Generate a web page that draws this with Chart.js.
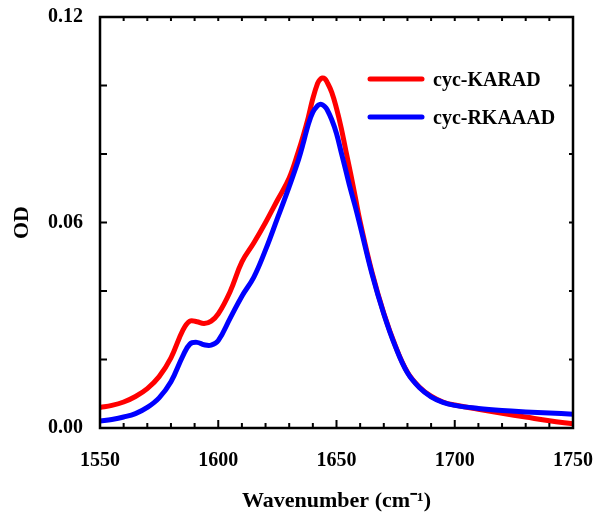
<!DOCTYPE html>
<html>
<head>
<meta charset="utf-8">
<script src="https://cdn.jsdelivr.net/npm/chart.js@4.4.1/dist/chart.umd.min.js"></script>
<style>
  body{margin:0;background:#fff;}
  #wrap{width:600px;height:520px;}
</style>
</head>
<body>
<div id="wrap"><canvas id="chart" width="600" height="520"></canvas></div>
<script>
// wavenumber grid (cm-1)
const wavenumbers = [1550,1555,1560,1565,1570,1575,1580,1585,1588,1591,1594,1597,1600,1605,1610,1615,1620,1625,1630,1634,1636,1638,1640,1642,1643,1644,1645,1646,1648,1650,1652,1654,1656,1658,1660,1665,1670,1675,1680,1685,1690,1695,1700,1710,1720,1730,1740,1750];

const odKARAD = [0.0060,0.0066,0.0076,0.0092,0.0115,0.0150,0.0205,0.0285,0.0312,0.0310,0.0305,0.0312,0.0333,0.0398,0.0485,0.0540,0.0600,0.0665,0.0730,0.0810,0.0855,0.0905,0.0962,0.1006,0.1017,0.1022,0.1020,0.1010,0.0980,0.0933,0.0876,0.0808,0.0742,0.0672,0.0602,0.0455,0.0335,0.0238,0.0163,0.0120,0.0093,0.0076,0.0067,0.0055,0.0043,0.0032,0.0021,0.0012];

const odRKAAAD = [0.0020,0.0025,0.0032,0.0042,0.0060,0.0088,0.0135,0.0210,0.0245,0.0250,0.0243,0.0242,0.0255,0.0320,0.0385,0.0440,0.0520,0.0612,0.0705,0.0785,0.0833,0.0885,0.0922,0.0941,0.0945,0.0944,0.0939,0.0930,0.0900,0.0860,0.0805,0.0750,0.0695,0.0645,0.0590,0.0450,0.0333,0.0236,0.0161,0.0118,0.0091,0.0075,0.0066,0.0057,0.0051,0.0047,0.0044,0.0040];

const seriesNames = ['cyc-KARAD','cyc-RKAAAD'];
const seriesColors = ['#ff0000','#0000ff'];

const xLabelsAt = [1550,1600,1650,1700,1750];
const yLabelsAt = ['0.00','0.06','0.12'];

const FONT = '"Liberation Serif", "Times New Roman", serif';

const pts = arr => arr.map((v,i)=>({x:wavenumbers[i], y:v}));

// frame + inward ticks on all four sides
const framePlugin = {
  id:'frame',
  afterDraw(chart){
    const {ctx, chartArea:{left,right,top,bottom}} = chart;
    const xs = chart.scales.x, ys = chart.scales.y;
    ctx.save();
    ctx.strokeStyle = '#000';
    ctx.lineWidth = 2;
    ctx.beginPath();
    xs.ticks.forEach(t=>{
      const px = xs.getPixelForValue(t.value);
      const major = xLabelsAt.includes(Math.round(t.value));
      ctx.moveTo(px,bottom); ctx.lineTo(px,bottom-(major?8:5));
      ctx.moveTo(px,top); ctx.lineTo(px,top+4);
    });
    ys.ticks.forEach(t=>{
      const py = ys.getPixelForValue(t.value);
      ctx.moveTo(left,py); ctx.lineTo(left+7,py);
      ctx.moveTo(right,py); ctx.lineTo(right-4,py);
    });
    ctx.stroke();
    ctx.lineWidth = 2.5;
    ctx.strokeRect(left,top,right-left,bottom-top);
    ctx.restore();
  }
};

// legend inside the plot, top right
const legendPlugin = {
  id:'insideLegend',
  afterDraw(chart){
    const {ctx} = chart;
    ctx.save();
    ctx.font = 'bold 20px ' + FONT;
    ctx.textBaseline = 'middle';
    chart.data.datasets.forEach((ds,i)=>{
      const y = 79 + i*38;
      ctx.strokeStyle = ds.borderColor;
      ctx.lineWidth = 5;
      ctx.lineCap = 'round';
      ctx.beginPath(); ctx.moveTo(370,y); ctx.lineTo(422,y); ctx.stroke();
      ctx.fillStyle = '#000';
      ctx.fillText(ds.label, 433, y+2);
    });
    ctx.restore();
  }
};

new Chart(document.getElementById('chart'),{
  type:'line',
  data:{
    datasets:[
      {label:seriesNames[0],data:pts(odKARAD),borderColor:seriesColors[0],order:1},
      {label:seriesNames[1],data:pts(odRKAAAD),borderColor:seriesColors[1],order:0}
    ]
  },
  options:{
    responsive:false,
    animation:false,
    layout:{padding:{top:17,right:27,left:0,bottom:0}},
    elements:{
      line:{borderWidth:5,tension:0.4,fill:false,borderCapStyle:'round'},
      point:{radius:0}
    },
    plugins:{legend:{display:false},tooltip:{enabled:false}},
    scales:{
      x:{
        type:'linear',min:1550,max:1750,
        grid:{display:false,drawTicks:false},
        border:{display:false},
        ticks:{stepSize:10,autoSkip:false,maxRotation:0,padding:21,color:'#000',
          font:{family:FONT,size:20,weight:'bold'},
          callback:v=>xLabelsAt.includes(Math.round(v))?String(Math.round(v)):''},
        title:{display:true,text:'Wavenumber (cm\u207B\u00B9)',color:'#000',
          font:{family:FONT,size:22,weight:'bold'},padding:{top:0,bottom:5}},
        afterFit:s=>{s.height=92;s.paddingLeft=0;s.paddingRight=0;}
      },
      y:{
        min:0,max:0.12,
        grid:{display:false,drawTicks:false},
        border:{display:false},
        ticks:{stepSize:0.02,padding:17,color:'#000',
          font:{family:FONT,size:20,weight:'bold'},
          callback:v=>{const s=v.toFixed(2);return yLabelsAt.includes(s)?s:'';}},
        title:{display:true,text:'OD',color:'#000',
          font:{family:FONT,size:22,weight:'bold'},padding:{top:9,bottom:0}},
        afterFit:s=>{s.width=100;s.paddingTop=0;s.paddingBottom=0;}
      }
    }
  },
  plugins:[framePlugin,legendPlugin]
});
</script>
</body>
</html>
